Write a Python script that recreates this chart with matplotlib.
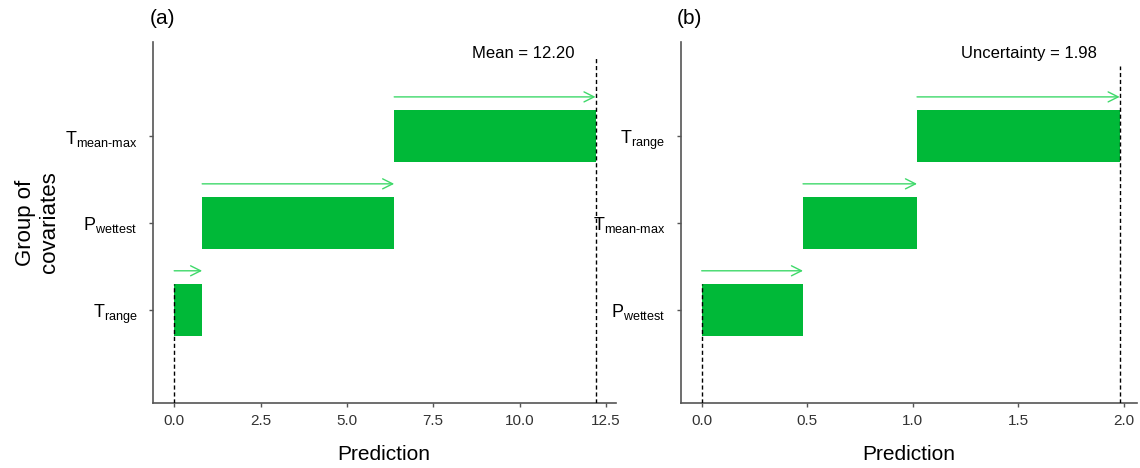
import matplotlib
matplotlib.use("Agg")
import matplotlib.pyplot as plt

plt.rcParams['font.family'] = ['Liberation Sans', 'DejaVu Sans']
plt.rcParams['mathtext.default'] = 'regular'

# panel (a): mean prediction, contributions per group of covariates (bottom to top)
labels_a = ['T$_{range}$', 'P$_{wettest}$', 'T$_{mean\u2010max}$']
contrib_a = [0.81, 5.56, 5.83]
total_a = 12.20
xticks_a = [0.0, 2.5, 5.0, 7.5, 10.0, 12.5]

# panel (b): uncertainty
labels_b = ['P$_{wettest}$', 'T$_{mean\u2010max}$', 'T$_{range}$']
contrib_b = [0.48, 0.54, 0.96]
total_b = 1.98
xticks_b = [0.0, 0.5, 1.0, 1.5, 2.0]

bar_col = '#00b938'
arrow_col = '#3fd96a'
spine_col = '#555555'


def waterfall(ax, labels, contrib, total, xticks, xlim, txt, txt_x, top_dash):
    start = 0.0
    ys = list(range(1, len(labels) + 1))
    for y, c in zip(ys, contrib):
        ax.barh(y, c, left=start, height=0.6, color=bar_col, zorder=2)
        ax.annotate('', xy=(start + c, y + 0.45), xytext=(start, y + 0.45),
                    arrowprops=dict(arrowstyle='->', color=arrow_col, lw=1.0,
                                    mutation_scale=18, shrinkA=0, shrinkB=0),
                    zorder=3)
        start += c
    ax.plot([0, 0], [-0.07, ys[0] + 0.3], ls=(0, (3, 2)), color='black', lw=1.0, zorder=4)
    ax.plot([total, total], [-0.07, top_dash], ls=(0, (3, 2)), color='black', lw=1.0, zorder=4)
    ax.text(txt_x, 3.95, txt, ha='center', va='center', fontsize=12)
    ax.set_yticks(ys)
    ax.set_yticklabels(labels, fontsize=13)
    ax.set_xticks(xticks)
    ax.set_xticklabels(['%.1f' % v for v in xticks], fontsize=11, color='#333333')
    ax.set_xlim(xlim)
    ax.set_ylim(-0.07, 4.08)
    ax.set_xlabel('Prediction', fontsize=15, labelpad=12)
    for s in ['top', 'right']:
        ax.spines[s].set_visible(False)
    for s in ['left', 'bottom']:
        ax.spines[s].set_color(spine_col)
        ax.spines[s].set_linewidth(1.2)
    ax.tick_params(axis='both', colors=spine_col, length=3, width=1)
    ax.tick_params(axis='y', labelcolor='black', pad=8)
    ax.tick_params(axis='x', labelcolor='#333333', pad=5)


fig = plt.figure(figsize=(11.4, 4.68), dpi=100)
ax1 = fig.add_axes([0.134, 0.139, 0.406, 0.771])
ax2 = fig.add_axes([0.597, 0.139, 0.400, 0.771])

waterfall(ax1, labels_a, contrib_a, total_a, xticks_a, (-0.62, 12.78),
          'Mean = 12.20', 10.1, 3.9)
waterfall(ax2, labels_b, contrib_b, total_b, xticks_b, (-0.1, 2.06),
          'Uncertainty = 1.98', 1.55, 3.8)

ax1.set_ylabel('Group of\ncovariates', fontsize=16, labelpad=4)
ax1.yaxis.set_label_coords(-0.2, 0.5)
fig.text(0.131, 0.96, '(a)', fontsize=15, ha='left', va='center')
fig.text(0.594, 0.96, '(b)', fontsize=15, ha='left', va='center')

fig.savefig('out.png', dpi=100)
